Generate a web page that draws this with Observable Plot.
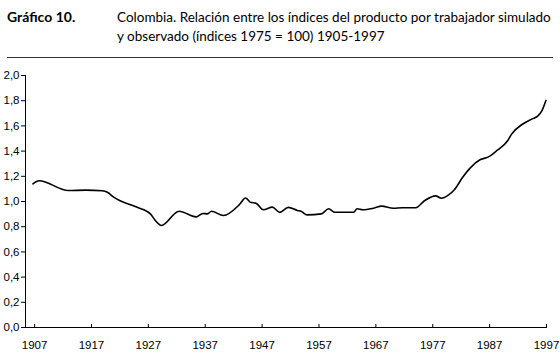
<!DOCTYPE html>
<html><head><meta charset="utf-8">
<script src="https://cdn.jsdelivr.net/npm/d3@7"></script>
<script src="https://cdn.jsdelivr.net/npm/@observablehq/plot@0.6"></script>
<style>
html,body{margin:0;padding:0;background:#fff;}
#wrap{position:relative;width:560px;height:353px;font-family:"Lato","Liberation Sans",sans-serif;color:#000;}
#lab{position:absolute;left:7px;top:8px;font-size:14px;font-weight:bold;}
#sub{position:absolute;left:117px;top:8px;font-size:13.5px;line-height:19px;white-space:nowrap;}
#rule{position:absolute;left:7px;top:57px;width:546px;height:0;border-top:1px solid #333;}
#chart{position:absolute;left:0;top:62px;}
</style></head>
<body><div id="wrap">
<div id="lab">Gráfico 10.</div>
<div id="sub">Colombia. Relación entre los índices del producto por trabajador simulado<br>y observado (índices 1975 = 100) 1905-1997</div>
<div id="rule"></div>
<div id="chart"></div>
</div>
<script>
const years = [1906.7,1907.8,1912.9,1916,1918.9,1919.8,1920.9,1924.7,1926.2,1927.4,1928.3,1929.3,1932.4,1935.4,1936.6,1937.4,1938.1,1940.2,1943.0,1944.1,1944.9,1946.0,1947.2,1948.8,1950.1,1951.6,1953.2,1953.9,1954.9,1957.4,1958.7,1959.8,1963.1,1963.7,1964.7,1966.6,1968.0,1970.1,1971.6,1974.0,1975.6,1977.5,1978.5,1979.8,1980.8,1982.2,1983.6,1985.3,1986.7,1988.3,1990.2,1990.9,1992.7,1994.5,1995.4,1996.2,1996.9];
const values = [1.14,1.165,1.087,1.09,1.085,1.074,1.034,0.96,0.934,0.9,0.845,0.81,0.923,0.878,0.905,0.902,0.923,0.889,0.975,1.028,0.995,0.985,0.934,0.955,0.914,0.953,0.929,0.921,0.894,0.902,0.942,0.915,0.915,0.942,0.934,0.947,0.963,0.947,0.95,0.95,1.008,1.045,1.026,1.053,1.093,1.188,1.267,1.331,1.352,1.405,1.484,1.537,1.611,1.656,1.675,1.722,1.802];
const xTicks = [1907,1917,1927,1937,1947,1957,1967,1977,1987,1997];
const yTicks = [0,0.2,0.4,0.6,0.8,1.0,1.2,1.4,1.6,1.8,2.0];
const data = years.map((y,i)=>({year:y,value:values[i]}));
const chart = Plot.plot({
  width:560, height:291,
  marginTop:13, marginBottom:26, marginLeft:25, marginRight:14,
  style:{fontFamily:'"Liberation Sans",sans-serif', fontSize:"11.5px", color:"#000", background:"#fff"},
  x:{domain:[1905.4,1997]},
  y:{domain:[0,2]},
  marks:[
    Plot.frame({anchor:"left", stroke:"#000", strokeWidth:1}),
    Plot.frame({anchor:"bottom", stroke:"#000", strokeWidth:1}),
    Plot.axisY({ticks:yTicks, tickSize:4, tickPadding:2, tickFormat:d=>d.toFixed(1).replace(".",","), label:null, fontSize:11.5}),
    Plot.axisX({ticks:xTicks, tickSize:-3, tickFormat:()=>"", label:null}),
    Plot.axisX({ticks:xTicks, tickSize:0, tickPadding:13, tickFormat:d=>String(d), label:null, fontSize:11.5}),
    Plot.line(data,{x:"year", y:"value", stroke:"#000", strokeWidth:1.6, curve:"monotone-x"})
  ]
});
document.getElementById("chart").appendChild(chart);
</script>
</body></html>
